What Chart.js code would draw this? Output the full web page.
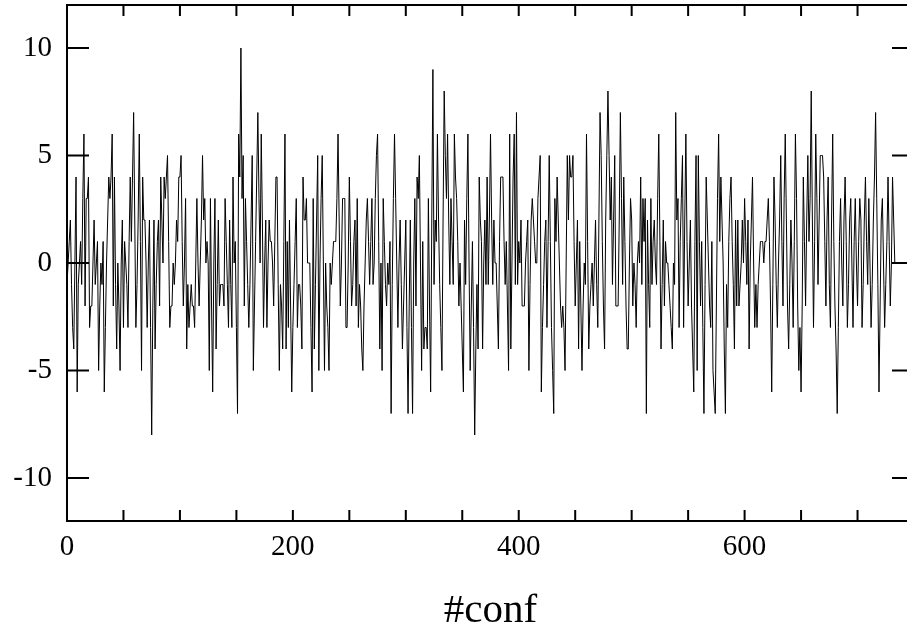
<!DOCTYPE html>
<html><head><meta charset="utf-8">
<script src="https://cdn.jsdelivr.net/npm/chart.js@4.4.0/dist/chart.umd.min.js"></script>
<style>html,body{margin:0;padding:0;overflow:hidden;background:#fff;width:907px;height:634px}
#wrap{position:relative;width:930px;height:634px}</style>
</head><body><div id="wrap"><canvas id="c" width="930" height="634"></canvas></div>
<script>
const xTicks = [0,50,100,150,200,250,300,350,400,450,500,550,600,650,700,750];
const xLabelValues = [0,200,400,600];
const yTicks = [-10,-5,0,5,10];
const yLabels = ['-10','-5','0','5','10'];
const xTitle = '#conf';
const conf = [
-1,0,1,2,-1,-3,-4,0,4,-6,
-1,0,1,-1,3,6,-2,3,3,4,
-3,-2,-2,0,2,-1,0,1,-5,-2,
0,-1,1,-6,-3,0,2,4,3,4,
6,-2,4,-1,-4,0,-2,-5,0,2,
-3,1,0,-1,-3,1,4,1,4,7,
2,-3,-1,2,6,1,-5,4,2,2,
0,-3,0,2,-3,-8,-2,2,-4,-1,
1,2,-2,4,2,0,4,3,4,5,
1,-3,-2,-2,0,-1,0,2,1,4,
4,5,1,-2,0,3,-4,-1,-3,-2,
-1,-2,-2,-3,0,3,0,-2,0,2,
5,2,3,0,1,0,-5,3,-2,-6,
0,3,-4,-1,2,-2,-1,-1,-1,-2,
3,1,-1,-3,2,-1,-3,4,0,1,
-3,-7,6,4,10,3,5,-2,3,1,
-1,-3,-1,2,5,-5,-2,1,4,7,
3,0,6,2,-3,0,2,-3,0,2,
1,1,0,-2,1,4,4,-1,-5,-1,
-2,-4,1,6,-4,1,-3,2,-2,-6,
-3,-1,1,3,-3,-1,-1,-2,-4,4,
2,2,3,0,0,0,-3,-6,3,-4,
-1,2,5,-5,0,3,5,0,-5,0,
-2,-3,-5,0,-1,0,1,1,1,3,
6,2,-2,0,3,3,3,-3,-3,0,
4,1,-2,-1,1,2,-2,3,-3,-1,
-2,-4,-5,-2,0,2,3,1,-1,1,
3,-1,0,3,5,6,1,-4,0,-5,
3,1,-1,-2,0,-1,1,-7,-1,3,
6,3,0,-3,0,2,-1,-4,-2,0,
2,-3,-7,-2,2,-3,-7,0,3,-2,
4,3,5,0,-5,1,-4,-3,-3,-4,
3,-2,-6,2,9,-1,2,1,6,2,
-1,-3,-5,2,8,5,3,6,2,-1,
3,1,-1,6,4,3,1,-2,0,-2,
-4,-6,2,-1,3,6,0,-5,-2,1,
-3,-8,-4,-1,-4,4,2,1,-4,0,
2,-1,4,-1,2,6,2,-1,2,0,
0,-2,-4,1,4,4,4,1,-1,1,
-2,-5,6,-4,0,4,6,-1,7,-1,
1,0,2,-2,-2,-2,0,1,2,-5,
-1,2,3,2,1,0,0,3,4,5,
-6,-3,-1,1,2,-3,1,5,1,-3,
-5,-7,3,1,4,2,0,-2,-3,-2,
-3,-5,0,5,2,5,4,4,5,1,
-2,0,2,-4,1,-2,-5,-2,0,-1,
6,1,-4,-2,-1,0,-2,0,2,-1,
-3,2,7,5,1,-2,-4,2,5,8,
5,2,4,-1,2,5,-2,-2,-2,2,
7,3,-1,4,1,-2,-4,-4,0,3,
2,-2,0,-1,-3,0,1,0,4,-1,
3,1,3,-7,2,-1,-3,3,-1,1,
2,0,-1,3,6,1,-4,-1,2,-2,
1,0,0,-1,-2,-3,-4,0,-1,7,
2,3,-3,1,3,5,-3,2,6,1,
-2,0,2,-2,-4,-6,1,5,-5,5,
1,-2,1,-3,-7,-1,4,2,0,-2,
-3,1,-5,-6,-7,-2,3,6,1,4,
2,0,-4,-7,-1,-3,1,3,4,1,
-1,-4,2,-2,2,-2,-1,0,2,0,
3,1,-1,2,-4,0,2,4,0,-3,
-1,-3,-1,0,1,1,1,0,1,1,
2,3,1,-2,-6,-1,4,2,-1,-3,
0,2,5,1,-2,3,6,2,-2,-4,
-1,2,0,-3,1,6,3,-2,-5,-3,
-6,-2,4,1,-2,2,5,1,3,8,
2,-3,1,6,3,-1,2,5,5,5,
4,1,-2,2,4,-1,-3,2,6,1,
-2,-4,-7,-3,1,3,0,-2,2,4,
1,-3,-1,2,3,0,-3,1,3,0,
-2,1,3,2,-3,-1,2,4,1,-1,
3,0,-3,-1,2,4,7,3,-1,-6,
-2,2,3,0,-3,-1,1,4,1,-2,
0,4,2,0
];

const FONT = 'Liberation Serif, Times New Roman, serif';
const points = conf.map((v, i) => ({x: i, y: v}));

const framePlugin = {
  id: 'frame',
  afterDatasetsDraw(chart) {
    const {ctx, chartArea: {left, right, top, bottom}, scales: {x, y}} = chart;
    ctx.save();
    ctx.strokeStyle = '#000';
    ctx.lineWidth = 2;
    ctx.strokeRect(left, top, right - left, bottom - top);
    ctx.beginPath();
    xTicks.forEach(v => {
      const px = x.getPixelForValue(v);
      ctx.moveTo(px, bottom); ctx.lineTo(px, bottom - 11);
      ctx.moveTo(px, top); ctx.lineTo(px, top + 11);
    });
    yTicks.forEach(v => {
      const py = y.getPixelForValue(v);
      ctx.moveTo(left, py); ctx.lineTo(left + 22, py);
      ctx.moveTo(right, py); ctx.lineTo(right - 22, py);
    });
    ctx.stroke();
    ctx.restore();
  }
};

function zeroPad(s) { s.paddingTop = 0; s.paddingBottom = 0; s.paddingLeft = 0; s.paddingRight = 0; }

new Chart(document.getElementById('c'), {
  type: 'line',
  data: {
    datasets: [{
      data: points,
      borderColor: '#000',
      borderWidth: 1,
      pointRadius: 0,
      tension: 0,
      fill: false
    }]
  },
  options: {
    responsive: false,
    devicePixelRatio: 1,
    animation: false,
    layout: {padding: {top: 5, right: 16, left: 0, bottom: 0}},
    plugins: {legend: {display: false}, tooltip: {enabled: false}},
    scales: {
      x: {
        type: 'linear',
        min: 0, max: 750,
        afterBuildTicks: s => { s.ticks = xTicks.map(v => ({value: v})); },
        afterFit: s => { s.height = 113; zeroPad(s); },
        grid: {display: false, drawTicks: false},
        border: {display: false},
        ticks: {
          autoSkip: false, maxRotation: 0, minRotation: 0,
          color: '#000', padding: 12,
          font: {family: FONT, size: 29, lineHeight: 1},
          callback: v => xLabelValues.includes(v) ? String(v) : ''
        },
        title: {
          display: true, text: xTitle, color: '#000',
          font: {family: FONT, size: 41, lineHeight: 1},
          padding: {top: 0, bottom: 2}
        }
      },
      y: {
        type: 'linear',
        min: -12, max: 12,
        afterBuildTicks: s => { s.ticks = yTicks.map(v => ({value: v})); },
        afterFit: s => { s.width = 67; zeroPad(s); },
        grid: {display: false, drawTicks: false},
        border: {display: false},
        ticks: {
          color: '#000', padding: 15,
          font: {family: FONT, size: 29, lineHeight: 1},
          callback: (v) => { const i = yTicks.indexOf(v); return i >= 0 ? yLabels[i] : ''; }
        }
      }
    }
  },
  plugins: [framePlugin]
});
</script>
</body></html>
